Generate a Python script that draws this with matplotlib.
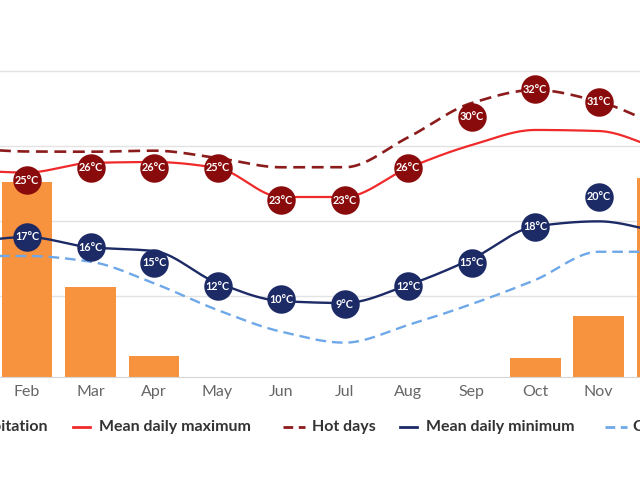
import numpy as np
import matplotlib
matplotlib.use('Agg')
import matplotlib.pyplot as plt
from matplotlib.lines import Line2D

plt.rcParams['font.family'] = ['Lato', 'DejaVu Sans']

months = ['Jan', 'Feb', 'Mar', 'Apr', 'May', 'Jun', 'Jul', 'Aug', 'Sep', 'Oct', 'Nov', 'Dec']
precip = [120, 130, 60, 14, 0, 0, 0, 0, 0, 13, 41, 133]

# curves (deg C)
max_line = [25.31, 25.09, 25.91, 25.99, 25.48, 23.0, 23.0, 25.48, 27.44, 28.73, 28.64, 27.02]
hot_line = [27.19, 26.89, 26.87, 26.96, 26.33, 25.54, 25.54, 28.10, 31.03, 32.15, 31.15, 28.98]
min_line = [19.07, 19.58, 18.70, 18.38, 15.65, 14.11, 13.94, 15.48, 17.70, 20.49, 20.92, 19.97]
cold_line = [17.96, 17.96, 17.47, 15.62, 13.34, 11.49, 10.55, 12.06, 13.85, 15.91, 18.32, 18.32]

# labelled points
nan = np.nan
max_mark = [nan, 24.45, 25.48, 25.48, 25.48, 22.74, 22.74, 25.48, nan, nan, nan, nan]
max_label = [None, 25, 26, 26, 25, 23, 23, 26, None, None, None, None]
hot_mark = [nan, nan, nan, nan, nan, nan, nan, nan, 29.86, 32.2, 31.15, nan]
hot_label = [None, None, None, None, None, None, None, None, 30, 32, 31, None]
min_mark = [nan, 19.61, 18.70, 17.38, 15.39, 14.26, 13.85, 15.39, 17.38, 20.46, 23.03, nan]
min_label = [None, 17, 16, 15, 12, 10, 9, 12, 15, 18, 20, None]


def pchip(x, y, xs):
    x = np.asarray(x, float)
    y = np.asarray(y, float)
    h = np.diff(x)
    d = np.diff(y) / h
    m = np.zeros_like(y)
    m[0] = d[0]
    m[-1] = d[-1]
    for k in range(1, len(y) - 1):
        if d[k - 1] * d[k] > 0:
            w1 = 2 * h[k] + h[k - 1]
            w2 = h[k] + 2 * h[k - 1]
            m[k] = (w1 + w2) / (w1 / d[k - 1] + w2 / d[k])
    idx = np.clip(np.searchsorted(x, xs) - 1, 0, len(x) - 2)
    t = (xs - x[idx]) / h[idx]
    h00 = 2 * t**3 - 3 * t**2 + 1
    h10 = t**3 - 2 * t**2 + t
    h01 = -2 * t**3 + 3 * t**2
    h11 = t**3 - t**2
    return h00 * y[idx] + h10 * h[idx] * m[idx] + h01 * y[idx + 1] + h11 * h[idx] * m[idx + 1]


fig = plt.figure(figsize=(6.4, 4.8), dpi=100)
W, H = 640.0, 480.0
x0_px, x1_px = -68.3, 694.0
ax = fig.add_axes([x0_px / W, 1 - 377 / H, (x1_px - x0_px) / W, 377 / H])
ax2 = ax.twinx()

x = np.arange(12)
ax.bar(x, precip, width=0.8, color='#f7933f', zorder=2)
ax.set_xlim(-0.5, 11.5)
ax.set_ylim(0, 377 / 1.5)
ax.set_yticks([54, 104, 154, 204])
ax.yaxis.grid(True, color='#e3e3e3', lw=1.0, zorder=0)
ax.set_axisbelow(True)
ax.tick_params(axis='y', left=False, labelleft=False)
ax.set_xticks(x, months)
ax.tick_params(axis='x', length=0, pad=6.0, labelsize=11.5, labelcolor='#666666')
for s in ['top', 'left', 'right']:
    ax.spines[s].set_visible(False)
ax.spines['bottom'].set_color('#d6d6d6')

ax2.set_ylim(23 - 180 / 11.7, 23 + 197 / 11.7)
ax2.set_axis_off()

xs = np.linspace(0, 11, 600)
ax2.plot(xs, pchip(x, cold_line, xs), color='#6ea8e8', lw=1.7, ls=(0, (4.5, 2.5)))
ax2.plot(xs, pchip(x, min_line, xs), color='#1c2a66', lw=1.7)
ax2.plot(xs, pchip(x, hot_line, xs), color='#8c1c1c', lw=1.9, ls=(0, (4.5, 2.5)))
ax2.plot(xs, pchip(x, max_line, xs), color='#f02a2a', lw=1.6)


def labels(marks, labs, color):
    for i in range(12):
        if labs[i] is None:
            continue
        ax2.plot(i, marks[i], 'o', ms=20.5, color=color, mec='none', zorder=5)
        ax2.text(i, marks[i], f'{labs[i]}°C', color='white', fontsize=7.8,
                 fontweight='bold', ha='center', va='center', zorder=6)


labels(max_mark, max_label, '#8a0b0b')
labels(hot_mark, hot_label, '#8a0b0b')
labels(min_mark, min_label, '#1c2a66')

# legend, cropped at both sides like the reference
ly = 1 - 427 / H


def leg_line(xa, xb, color, ls='-'):
    fig.add_artist(Line2D([xa / W, xb / W], [ly, ly], color=color, lw=2.0, ls=ls,
                          transform=fig.transFigure))


def leg_text(xp, s, ha='left'):
    fig.text(xp / W, ly, s, ha=ha, va='center', fontsize=11.5, fontweight='bold',
             color='#333333')


leg_text(48, 'Precipitation', ha='right')
leg_line(73, 90, '#f02a2a')
leg_text(99, 'Mean daily maximum')
leg_line(283, 305, '#8c1c1c', ls=(0, (3.5, 2)))
leg_text(312, 'Hot days')
leg_line(400, 417, '#1c2a66')
leg_text(426, 'Mean daily minimum')
leg_line(605, 627, '#6ea8e8', ls=(0, (3.5, 2)))
leg_text(633, 'Cold nights')

fig.savefig('out.png', dpi=100)
